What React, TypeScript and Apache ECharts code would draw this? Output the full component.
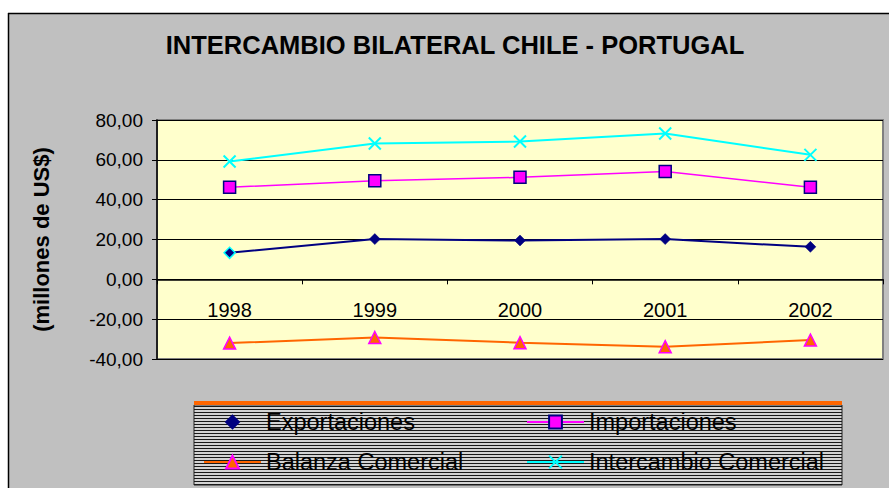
import React, { useEffect, useRef } from "react";
import * as echarts from "echarts";

const years = ["1998", "1999", "2000", "2001", "2002"];
const exportaciones = [13.3, 20.2, 19.5, 20.2, 16.3];
const importaciones = [46.2, 49.5, 51.2, 54.2, 46.2];
const balanza = [-32.0, -29.2, -31.8, -33.8, -30.5];
const intercambio = [59.2, 68.2, 69.2, 73.2, 62.5];

const titleText = "INTERCAMBIO BILATERAL CHILE - PORTUGAL";
const yAxisName = "(millones de US$)";
const FONT = "'Liberation Sans', Arial, sans-serif";

export default function App() {
  const ref = useRef<HTMLDivElement>(null);
  useEffect(() => {
    if (!ref.current) return;
    const chart = echarts.init(ref.current, null, { renderer: "svg" });

    const lbX = 194, lbY = 405, lbW = 648, lbH = 80;
    const stripes: any[] = [];
    for (let y = lbY + 1.5; y < lbY + lbH; y += 3) {
      stripes.push({
        type: "line",
        shape: { x1: lbX, y1: y, x2: lbX + lbW, y2: y },
        style: { stroke: "#1a1a1a", lineWidth: 1 },
        silent: true,
      });
    }

    const legendBase = {
      orient: "horizontal",
      padding: 0,
      itemWidth: 57,
      itemHeight: 16,
      itemGap: 5,
      textStyle: { color: "#000", fontFamily: FONT, fontSize: 23.5 },
      selectedMode: false,
    };

    // grid geometry
    const gridTop = 120;
    const gridBottomPx = 359;
    const yMin = -40, yMax = 80;
    const zeroOffset = -((0 - yMin) / (yMax - yMin)) * (gridBottomPx - gridTop);

    const option: any = {
      animation: false,
      backgroundColor: "#C0C0C0",
      textStyle: { fontFamily: FONT },
      graphic: [
        { type: "rect", shape: { x: 0, y: 0, width: 889, height: 13 }, style: { fill: "#fff" }, silent: true },
        { type: "rect", shape: { x: 0, y: 0, width: 8, height: 488 }, style: { fill: "#fff" }, silent: true },
        { type: "line", shape: { x1: 8, y1: 13.5, x2: 889, y2: 13.5 }, style: { stroke: "#000", lineWidth: 1.5 }, silent: true },
        { type: "line", shape: { x1: 8.5, y1: 13, x2: 8.5, y2: 488 }, style: { stroke: "#000", lineWidth: 1.5 }, silent: true },
        {
          type: "text",
          x: 455,
          y: 45,
          style: {
            text: titleText,
            font: `bold 25.5px ${FONT}`,
            fill: "#000",
            textAlign: "center",
            textVerticalAlign: "middle",
          },
        },
        { type: "rect", shape: { x: lbX, y: lbY, width: lbW, height: lbH }, style: { fill: "#d4d4d4", stroke: "#222", lineWidth: 1 }, silent: true },
        ...stripes,
        { type: "rect", shape: { x: lbX, y: 401, width: lbW, height: 4 }, style: { fill: "#FF6600" }, silent: true },
      ],
      legend: [
        { ...legendBase, data: [{ name: "Exportaciones" }], left: 203, top: 410, lineStyle: { opacity: 0 } },
        { ...legendBase, data: ["Importaciones"], left: 526, top: 410 },
        { ...legendBase, data: ["Balanza Comercial"], left: 203, top: 450 },
        { ...legendBase, data: ["Intercambio Comercial"], left: 526, top: 450 },
      ],
      grid: {
        left: 157,
        top: gridTop,
        right: 6,
        bottom: 488 - gridBottomPx,
        show: true,
        backgroundColor: "#FFFFCC",
        borderColor: "#808080",
        borderWidth: 2,
      },
      xAxis: {
        type: "category",
        data: years,
        boundaryGap: true,
        position: "bottom",
        offset: zeroOffset,
        axisLine: { onZero: false, lineStyle: { color: "#000", width: 1.5 } },
        axisTick: { show: true, length: 5, lineStyle: { color: "#000" } },
        axisLabel: { color: "#000", fontFamily: FONT, fontSize: 20, margin: 21 },
        splitLine: { show: false },
      },
      yAxis: {
        type: "value",
        min: yMin,
        max: yMax,
        interval: 20,
        name: yAxisName,
        nameLocation: "middle",
        nameRotate: 90,
        nameGap: 105,
        nameTextStyle: { color: "#000", fontFamily: FONT, fontSize: 22, fontWeight: "bold" },
        axisLine: { show: true, lineStyle: { color: "#000", width: 1.5 } },
        axisTick: { show: true, length: 5, lineStyle: { color: "#000" } },
        axisLabel: {
          color: "#000",
          fontFamily: FONT,
          fontSize: 19,
          margin: 14,
          formatter: (v: number) => v.toFixed(2).replace(".", ","),
        },
        splitLine: { show: true, lineStyle: { color: "#000", width: 1 } },
      },
      series: [
        {
          name: "Exportaciones",
          type: "line",
          data: exportaciones.map((v, i) =>
            i === 0 ? { value: v, itemStyle: { borderColor: "#00FFFF", borderWidth: 1.5 } } : v
          ),
          symbol: "diamond",
          symbolSize: 11,
          lineStyle: { color: "#000080", width: 2 },
          itemStyle: { color: "#000080", borderColor: "#000080", borderWidth: 0.5 },
          z: 4,
        },
        {
          name: "Importaciones",
          type: "line",
          data: importaciones,
          symbol: "rect",
          symbolSize: 12,
          lineStyle: { color: "#FF00FF", width: 1.5 },
          itemStyle: { color: "#FF00FF", borderColor: "#000080", borderWidth: 1.5 },
          z: 3,
        },
        {
          name: "Balanza Comercial",
          type: "line",
          data: balanza,
          symbol: "triangle",
          symbolSize: 12,
          lineStyle: { color: "#FF6600", width: 2 },
          itemStyle: { color: "#FF6600", borderColor: "#FF00FF", borderWidth: 1.5 },
          z: 3,
        },
        {
          name: "Intercambio Comercial",
          type: "line",
          data: intercambio,
          symbol: "path://M0,0L10,10M10,0L0,10",
          symbolSize: 12,
          lineStyle: { color: "#00FFFF", width: 2 },
          itemStyle: { color: "#00FFFF", borderColor: "#00FFFF", borderWidth: 2 },
          z: 3,
        },
      ],
    };

    chart.setOption(option);
    return () => chart.dispose();
  }, []);

  return (
    <div
      ref={ref}
      style={{ position: "fixed", left: 0, top: 0, width: 889, height: 488 }}
    />
  );
}
